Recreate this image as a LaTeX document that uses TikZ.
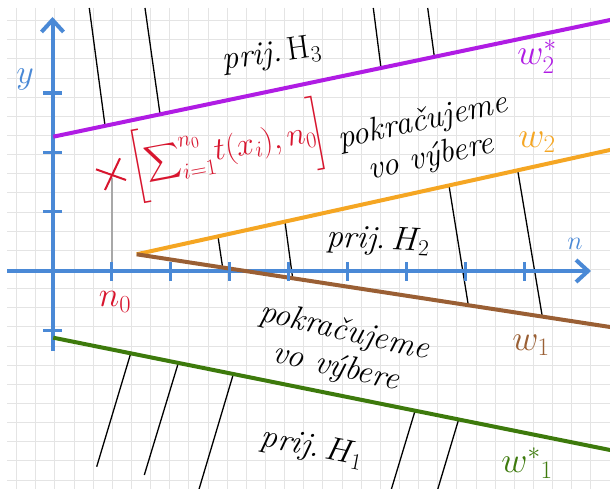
\documentclass[tikz,border=0pt]{standalone}
\usepackage{fix-cm}
\usepackage{amsmath}
\usepackage{fontspec}
\usetikzlibrary{arrows.meta}
\definecolor{axisblue}{HTML}{4A89D6}
\definecolor{wpurple}{HTML}{B01CE4}
\definecolor{worange}{HTML}{F5A623}
\definecolor{wbrown}{HTML}{9A5F34}
\definecolor{wgreen}{HTML}{3D7A0C}
\definecolor{nred}{HTML}{D8152E}
\definecolor{gridgray}{HTML}{E4E4E4}
\definecolor{ngray}{HTML}{A8A8A8}
\begin{document}
\begin{tikzpicture}[x=1pt,y=-1pt,
  gridline/.style={draw=gridgray, line width=1pt},
  axisline/.style={draw=axisblue, line width=4pt, -{Straight Barb[length=12pt,width=22pt]}},
  tickmark/.style={draw=axisblue, line width=3.5pt},
  wline/.style={line width=4pt},
  hatch/.style={draw=black, line width=1.3pt},
  txt/.style={font=\fontsize{33}{37}\selectfont\itshape, align=center, inner sep=0pt},
  mlbl/.style={font=\fontsize{36}{40}\selectfont, inner sep=0pt},
]
\useasboundingbox (0,0) rectangle (610,489);
\fill[white] (0,0) rectangle (610,489);
\begin{scope}
\clip (7,8) rectangle (610,489);
\foreach \i in {0,...,31} \draw[gridline] ({16.7+19.14*\i},8) -- ({16.7+19.14*\i},489);
\foreach \j in {0,...,24} \draw[gridline] (7,{20.7+19.14*\j}) -- (610,{20.7+19.14*\j});
% hatching H3
\draw[hatch] (89.3,8) -- (105,125.5);
\draw[hatch] (145,8) -- (160,114);
\draw[hatch] (373.3,8) -- (381,68);
\draw[hatch] (427.7,8) -- (434.3,56.5);
% hatching H2
\draw[hatch] (218,236.5) -- (222.7,268);
\draw[hatch] (285,221.8) -- (292.7,278.5);
\draw[hatch] (449,185.6) -- (468.3,305.2);
\draw[hatch] (517.7,170.4) -- (542.3,316.6);
% hatching H1
\draw[hatch] (130.7,353.4) -- (96.7,466.7);
\draw[hatch] (178.3,363) -- (144.3,475);
\draw[hatch] (233.3,374.2) -- (195.8,500);
\draw[hatch] (415,411) -- (388.1,500);
\draw[hatch] (458.3,420.6) -- (434.5,500);
% n0 guide
\draw[draw=ngray, line width=1.5pt] (112,178) -- (112,271);
% axes
\coordinate (xs) at (7,271);
\coordinate (xe) at (591,271);
\coordinate (ys) at (52.5,351);
\coordinate (ye) at (52.5,17);
\draw[axisline] (xs) -- (xe);
\draw[axisline] (ys) -- (ye);
% w lines
\draw[wline, draw=wpurple] (53.3,136.7) -- (612,19.6);
\draw[wline, draw=worange] (136.7,254.3) -- (612,149.5);
\draw[wline, draw=wbrown] (136.7,254.3) -- (612,327.3);
\draw[wline, draw=wgreen] (53.3,337.7) -- (612,450.4);
% ticks
\foreach \k in {1,...,8} \draw[tickmark] ({52.5+59*\k},262) -- ({52.5+59*\k},280.5);
\foreach \v in {211.7,152.4,93.1,330.3} \draw[tickmark] (43,\v) -- (62,\v);
\end{scope}
% cross mark
\draw[draw=nred, line width=2pt] (96,169.3) -- (126,180);
\draw[draw=nred, line width=2pt] (105,190) -- (120,158.3);
% labels
\node[mlbl, text=axisblue, font=\fontsize{34}{38}\selectfont] (ylab) at (25,79) {$y$};
\node[mlbl, text=axisblue, font=\fontsize{26}{30}\selectfont] (nlab) at (575,244) {$n$};
\node[mlbl, text=nred, font=\fontsize{35}{40}\selectfont] (n0lab) at (115,302) {$n_0$};
\node[mlbl, text=wpurple] (w2s) at (537,57) {$w_2^*$};
\node[mlbl, text=worange] (w2) at (537,142) {$w_2$};
\node[mlbl, text=wbrown] (w1) at (531,345) {$w_1$};
\node[mlbl, text=wgreen] (w1s) at (527,463) {$w^*{}_1$};
\node[txt, rotate=8] (h3) at (272,55) {prij.\,\upshape$\mathrm{H}_3$};
\node[txt, rotate=12.5] (cont1) at (427,140) {pokračujeme\\vo výbere};
\node[txt, rotate=-3] (h2) at (378,241) {prij.\,$H_2$};
\node[txt, rotate=-13] (cont2) at (340,350) {pokračujeme\\vo výbere};
\node[txt, rotate=-11] (h1) at (312,448) {prij.\,$H_1$};
\node[mlbl, text=nred, font=\fontsize{32}{37}\selectfont, rotate=10.5] (stat) at (228,150)
  {$\displaystyle\bigg[\!\sum\nolimits_{i=1}^{n_0}\! t(x_i), n_0\!\bigg]$};
\end{tikzpicture}
\end{document}
